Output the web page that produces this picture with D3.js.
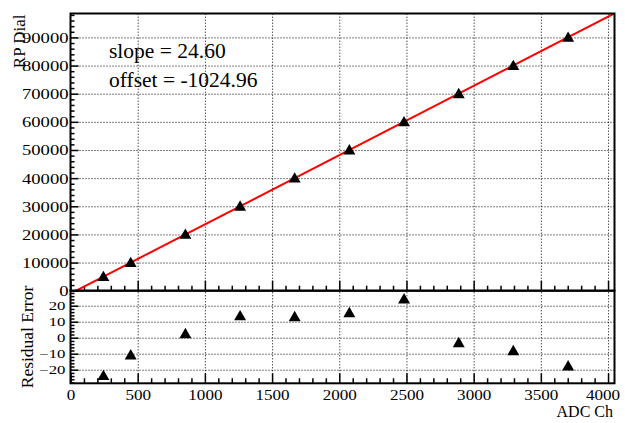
<!DOCTYPE html>
<html>
<head>
<meta charset="utf-8">
<script src="https://cdn.jsdelivr.net/npm/d3@7"></script>
<style>
  body { margin: 0; background: #fff; }
  svg { display: block; }
  .domain { display: none; }
</style>
</head>
<body>
<svg id="chart" width="625" height="423" font-family="'Liberation Serif', 'Times New Roman', serif"></svg>
<script>
// calibration points
const adcCh = [245, 448, 855, 1262, 1668, 2075, 2482, 2889, 3295, 3703];
const rpDial = [5000, 10000, 20000, 30000, 40000, 50000, 60000, 70000, 80000, 90000];
const residuals = [-23.7, -10.8, 2.5, 13.7, 13.1, 15.6, 24.2, -3.1, -8.1, -17.7];

const slope = 24.60;
const offset = -1024.96;

const xTicks = [0, 500, 1000, 1500, 2000, 2500, 3000, 3500, 4000];
const yTicks = [0, 10000, 20000, 30000, 40000, 50000, 60000, 70000, 80000, 90000];
const resTicks = [-20, -10, 0, 10, 20];

const serif = "'Liberation Serif', 'Times New Roman', serif";
const svg = d3.select('#chart');

// frame geometry (ROOT-like two pad layout)
const fLeft = 70.5, fRight = 614.5;
const fTop = 13.5, fMid = 290.7, fBottom = 383.3;

const x = d3.scaleLinear([0, 4048], [fLeft, fRight]);
const y = d3.scaleLinear([0, 98500], [fMid, fTop]);
const yr = d3.scaleLinear([-28.5, 29.4], [fBottom, fMid]);

const range = (a, b, s) => d3.range(a, b + s / 2, s);
const xMinor = range(0, 4000, 100).filter(v => v % 500 !== 0);
const yMinor = range(0, 98000, 2000).filter(v => v % 10000 !== 0);
const rMinor = range(-28, 28, 2).filter(v => v % 10 !== 0);

function grid(g) {
  g.selectAll('line')
    .attr('stroke', '#000')
    .attr('stroke-width', 1)
    .attr('stroke-dasharray', '1,2');
}

function ticks(g, w) {
  g.selectAll('line').attr('stroke', '#000').attr('stroke-width', w);
}

// stretched tick labels, like the ROOT png output
function labels(g, size, sx, dx) {
  g.attr('font-family', serif);
  g.selectAll('text')
    .attr('font-family', serif)
    .attr('font-size', size)
    .attr('fill', '#000')
    .attr('x', dx / sx)
    .attr('transform', `scale(${sx},1)`);
}

// ---- top pad ----
svg.append('g').attr('transform', `translate(0,${fMid})`)
  .call(d3.axisBottom(x).tickValues(xTicks.slice(1)).tickSize(-(fMid - fTop)).tickFormat(''))
  .call(grid);
svg.append('g').attr('transform', `translate(${fLeft},0)`)
  .call(d3.axisRight(y).tickValues(yTicks.slice(1)).tickSize(fRight - fLeft).tickFormat(''))
  .call(grid);

svg.append('g').attr('transform', `translate(0,${fMid})`)
  .call(d3.axisTop(x).tickValues(xTicks).tickSize(10).tickFormat(''))
  .call(ticks, 1.5);
svg.append('g').attr('transform', `translate(0,${fMid})`)
  .call(d3.axisTop(x).tickValues(xMinor).tickSize(5).tickFormat(''))
  .call(ticks, 1.5);
svg.append('g').attr('transform', `translate(${fLeft},0)`)
  .call(d3.axisRight(y).tickValues(yTicks).tickSize(8).tickFormat(''))
  .call(ticks, 1.5);
svg.append('g').attr('transform', `translate(${fLeft},0)`)
  .call(d3.axisRight(y).tickValues(yMinor).tickSize(4).tickFormat(''))
  .call(ticks, 1.5);

svg.append('g').attr('transform', `translate(${fLeft},0)`)
  .call(d3.axisLeft(y).tickValues(yTicks).tickSize(0).tickFormat(d3.format('d')))
  .call(labels, 15.5, 1.2, -2);

svg.append('clipPath').attr('id', 'topclip')
  .append('rect').attr('x', fLeft).attr('y', fTop).attr('width', fRight - fLeft).attr('height', fMid - fTop);

const fitLine = d3.line().x(d => x(d)).y(d => y(slope * d + offset));
svg.append('path')
  .datum(x.domain())
  .attr('clip-path', 'url(#topclip)')
  .attr('d', fitLine)
  .attr('fill', 'none')
  .attr('stroke', '#ff0000')
  .attr('stroke-width', 2);

const tri = d3.symbol(d3.symbolTriangle, 62);

svg.append('g').selectAll('path')
  .data(adcCh)
  .join('path')
  .attr('d', tri)
  .attr('transform', (d, i) => `translate(${x(d)},${y(rpDial[i]) + 1})`)
  .attr('fill', '#000');

svg.append('text')
  .attr('x', 109).attr('y', 58)
  .attr('font-size', 21.5)
  .text(`slope = ${slope.toFixed(2)}`);
svg.append('text')
  .attr('x', 109).attr('y', 87)
  .attr('font-size', 21.5)
  .text(`offset = ${offset.toFixed(2)}`);

svg.append('text')
  .attr('transform', `translate(25,${fTop + 1}) rotate(-90)`)
  .attr('text-anchor', 'end')
  .attr('font-size', 17)
  .text('RP Dial');

svg.append('rect')
  .attr('x', fLeft).attr('y', fTop)
  .attr('width', fRight - fLeft).attr('height', fMid - fTop)
  .attr('fill', 'none').attr('stroke', '#000').attr('stroke-width', 2);

// ---- residual pad ----
svg.append('g').attr('transform', `translate(0,${fBottom})`)
  .call(d3.axisBottom(x).tickValues(xTicks.slice(1)).tickSize(-(fBottom - fMid)).tickFormat(''))
  .call(grid);
svg.append('g').attr('transform', `translate(${fLeft},0)`)
  .call(d3.axisRight(yr).tickValues(resTicks).tickSize(fRight - fLeft).tickFormat(''))
  .call(grid);

svg.append('g').attr('transform', `translate(0,${fBottom})`)
  .call(d3.axisTop(x).tickValues(xTicks).tickSize(10).tickFormat(''))
  .call(ticks, 1.5);
svg.append('g').attr('transform', `translate(0,${fBottom})`)
  .call(d3.axisTop(x).tickValues(xMinor).tickSize(5).tickFormat(''))
  .call(ticks, 1.5);
svg.append('g').attr('transform', `translate(${fLeft},0)`)
  .call(d3.axisRight(yr).tickValues(resTicks).tickSize(8).tickFormat(''))
  .call(ticks, 1.5);
svg.append('g').attr('transform', `translate(${fLeft},0)`)
  .call(d3.axisRight(yr).tickValues(rMinor).tickSize(4).tickFormat(''))
  .call(ticks, 1.5);

svg.append('g').attr('transform', `translate(${fLeft},0)`)
  .call(d3.axisLeft(yr).tickValues(resTicks).tickSize(0).tickFormat(d => d < 0 ? '\u2212' + (-d) : d))
  .call(labels, 12, 1.4, -5);

svg.append('g').attr('transform', `translate(0,${fBottom})`)
  .call(d3.axisBottom(x).tickValues(xTicks).tickSize(0).tickPadding(6).tickFormat(d3.format('d')))
  .call(g => g.attr('font-family', serif))
  .call(g => g.selectAll('text')
    .attr('font-family', serif)
    .attr('font-size', 15.5)
    .attr('fill', '#000')
    .attr('transform', 'scale(1.1,1)'))
  .call(g => g.select('.tick:last-of-type text').attr('x', -5));

svg.append('g').selectAll('path')
  .data(adcCh)
  .join('path')
  .attr('d', tri)
  .attr('transform', (d, i) => `translate(${x(d)},${yr(residuals[i]) + 1})`)
  .attr('fill', '#000');

svg.append('text')
  .attr('transform', `translate(33,${(fMid + fBottom) / 2}) rotate(-90)`)
  .attr('text-anchor', 'middle')
  .attr('font-size', 17.5)
  .text('Residual Error');

svg.append('text')
  .attr('x', 613).attr('y', 417)
  .attr('text-anchor', 'end')
  .attr('font-size', 16)
  .text('ADC Ch');

svg.append('rect')
  .attr('x', fLeft).attr('y', fMid)
  .attr('width', fRight - fLeft).attr('height', fBottom - fMid)
  .attr('fill', 'none').attr('stroke', '#000').attr('stroke-width', 2);
</script>
</body>
</html>
